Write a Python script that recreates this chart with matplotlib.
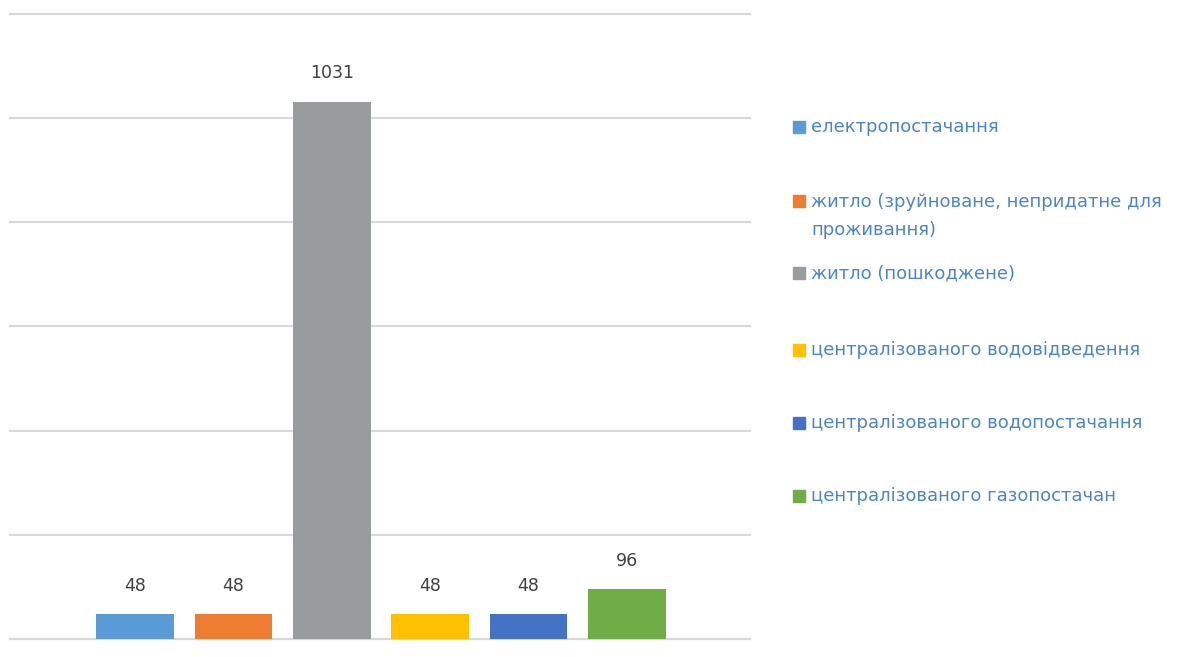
import matplotlib.pyplot as plt
from matplotlib.patches import Rectangle
import numpy as np

# data
categories = ["електропостачання",
              "житло (зруйноване, непридатне для\nпроживання)",
              "житло (пошкоджене)",
              "централізованого водовідведення",
              "централізованого водопостачання",
              "централізованого газопостачан"]
values = [48, 48, 1031, 48, 48, 96]
colors = ["#5b9bd5", "#ed7d31", "#999c9c", "#ffc000", "#4472c4", "#70ad47"]

W, H = 1192, 657
fig = plt.figure(figsize=(W / 100, H / 100), dpi=100)
ax = fig.add_axes([10 / W, 1 - 639 / H, 740 / W, (639 - 13.5) / H])

x = np.arange(len(values))
bars = ax.bar(x, values, width=0.79, color=colors, zorder=3)
for b, v in zip(bars, values):
    ax.annotate(str(v), (b.get_x() + b.get_width() / 2, v),
                xytext=(0, 14), textcoords="offset points",
                ha="center", va="bottom", fontsize=12.5, color="#404040")

ax.set_xlim(-1.27, 6.25)
ax.set_ylim(0, 1200)
ax.set_yticks(np.arange(0, 1201, 200))
ax.yaxis.grid(True, color="#d9d9d9", linewidth=1.5, zorder=0)
for gl in ax.get_ygridlines():
    gl.set_clip_on(False)
ax.set_xticks([])
ax.tick_params(left=False, labelleft=False)
for s in ["top", "right", "left"]:
    ax.spines[s].set_visible(False)
ax.spines["bottom"].set_color("#d9d9d9")
ax.spines["bottom"].set_linewidth(1.5)

# legend drawn by hand, Excel-style spacing
leg_y = [127, 201, 273, 350, 423, 496]
for c, lab, y in zip(colors, categories, leg_y):
    fig.add_artist(Rectangle((793 / W, 1 - (y + 6) / H), 12 / W, 12 / H,
                             transform=fig.transFigure, color=c))
    if "\n" in lab:
        fig.text(811 / W, 1 - (y - 8) / H, lab, ha="left", va="top",
                 fontsize=13, color="#4a86c6", linespacing=1.7)
    else:
        fig.text(811 / W, 1 - y / H, lab, ha="left", va="center",
                 fontsize=13, color="#4a86c6")

fig.savefig("out.png", dpi=100)
